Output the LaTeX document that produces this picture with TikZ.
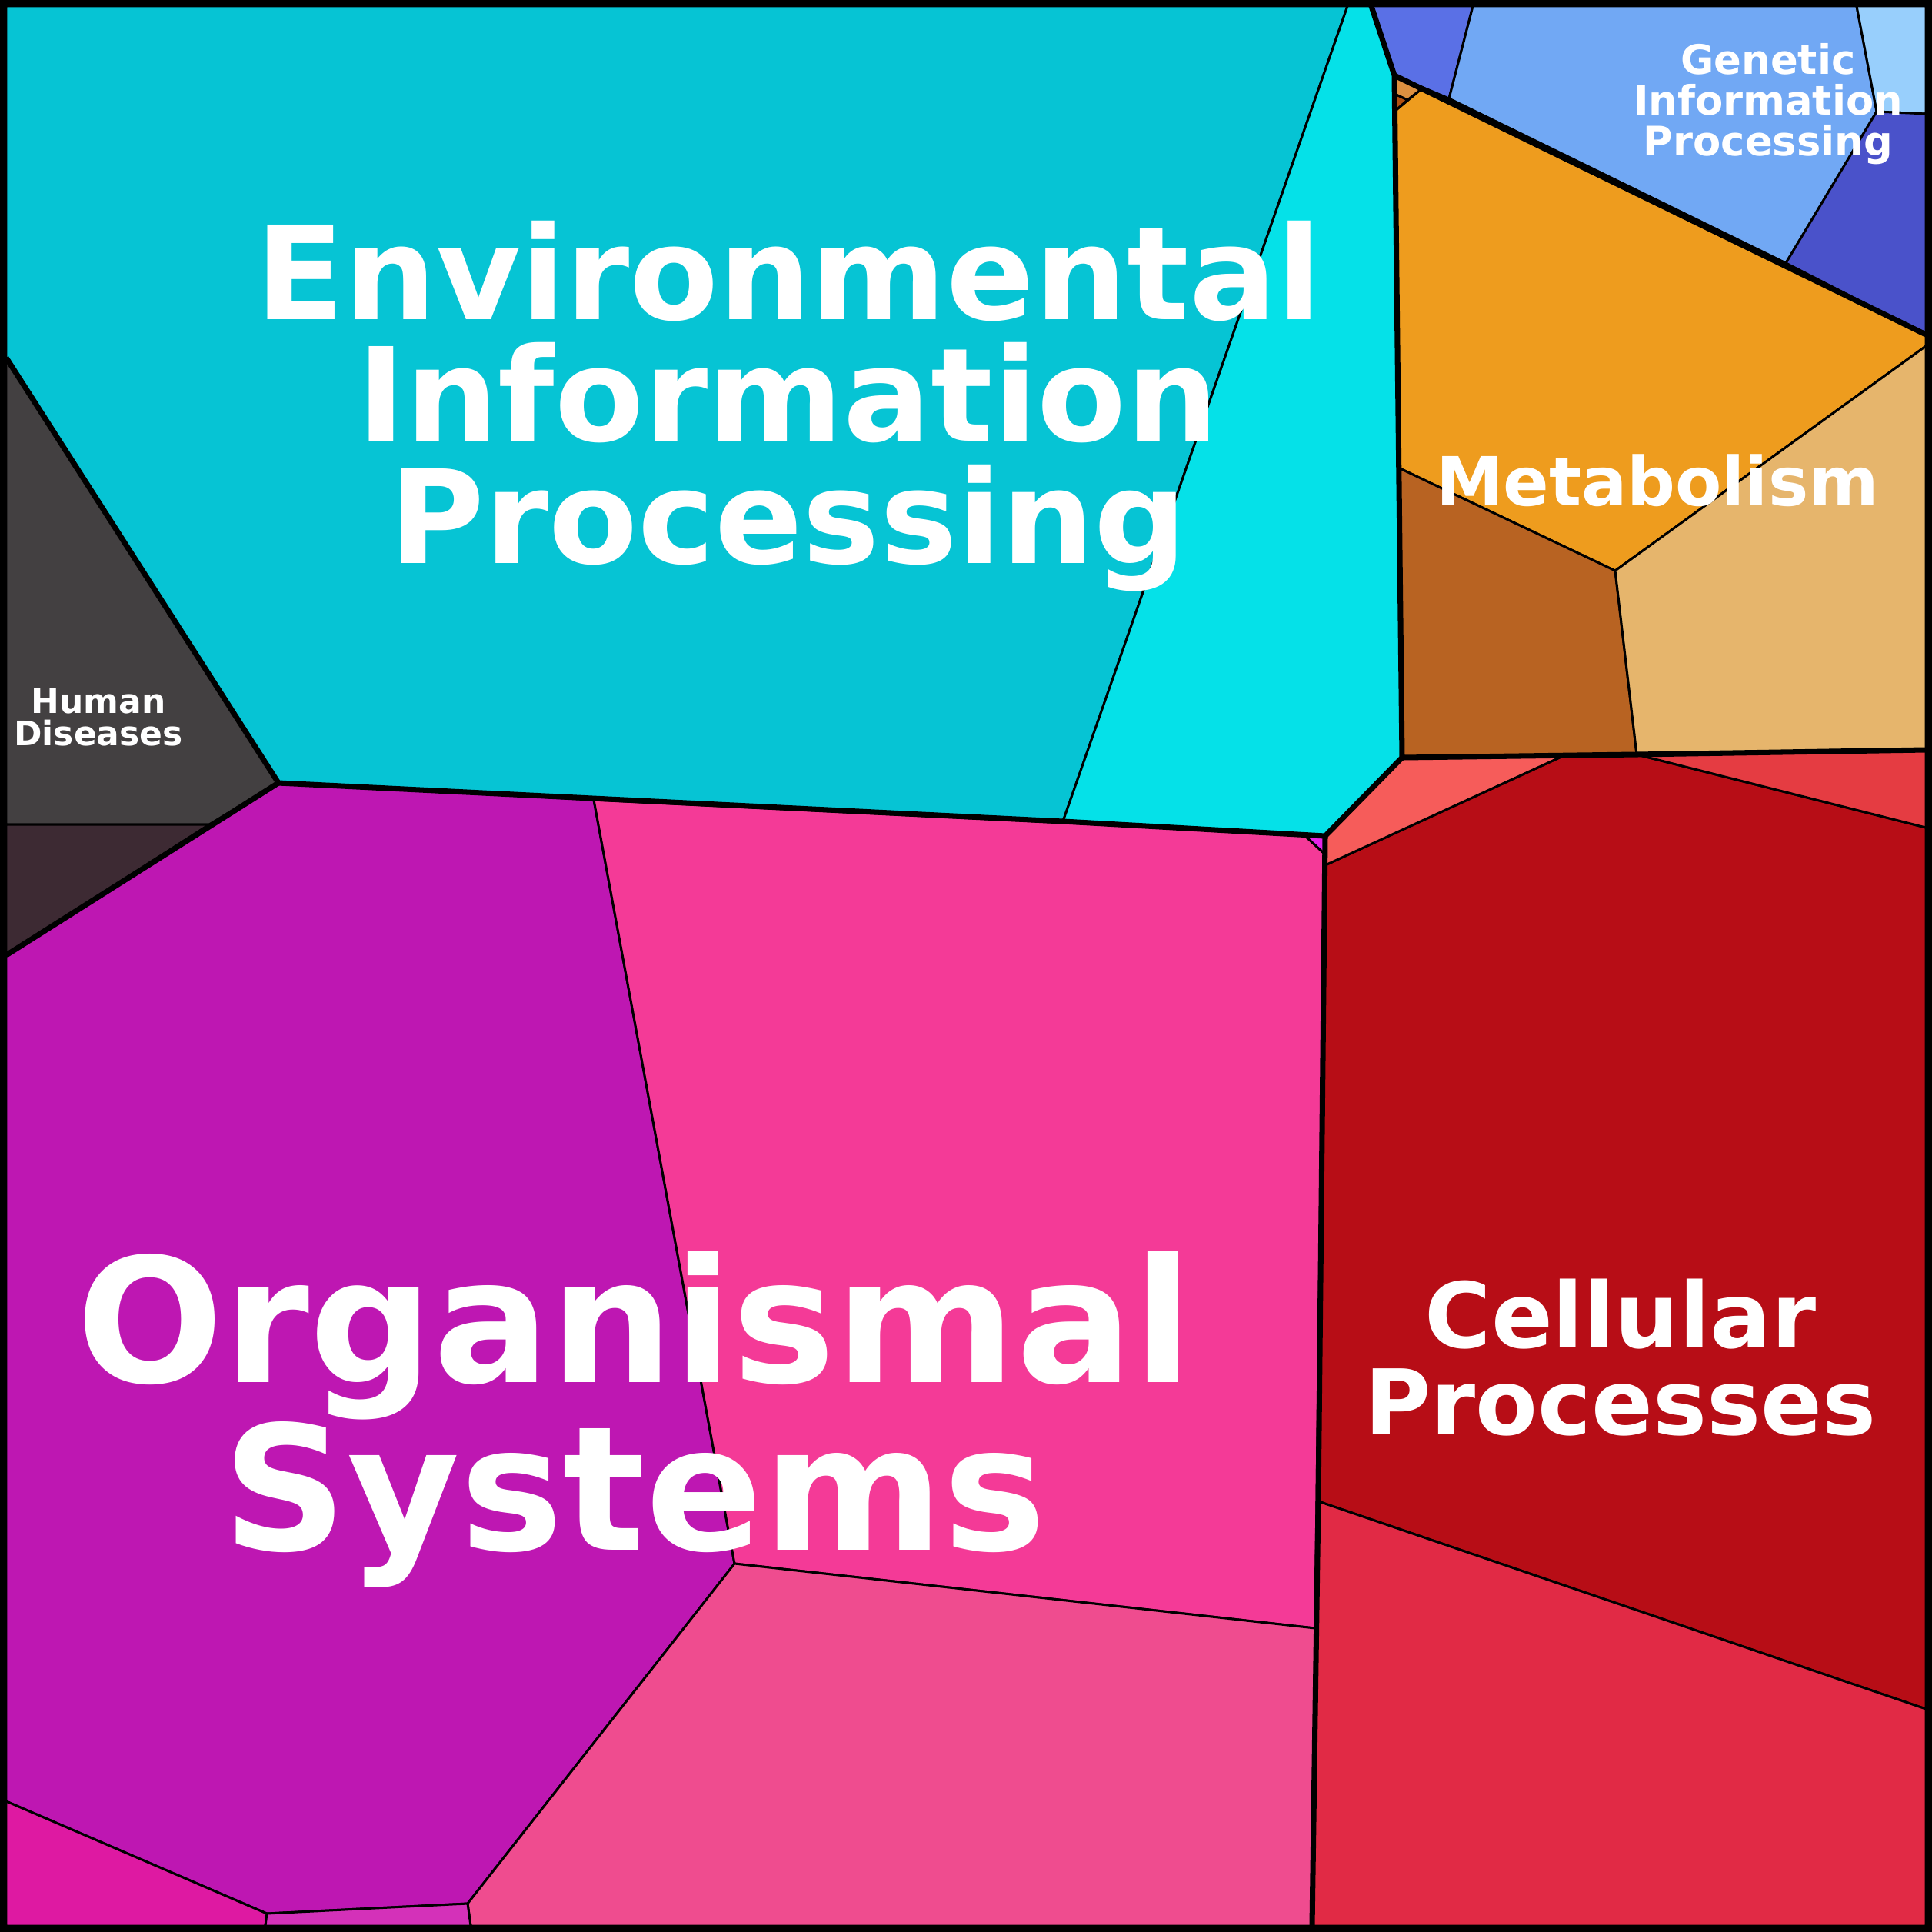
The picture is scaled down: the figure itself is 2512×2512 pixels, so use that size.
\documentclass[tikz,border=0pt]{standalone}
\usepackage{fontspec}
\setmainfont{DejaVu Sans}
\begin{document}
\begin{tikzpicture}[x=0.01cm,y=-0.01cm,
 cell/.style={draw=black,line width=0.85pt,line join=round},
 thick/.style={draw=black,line width=2pt,line join=round},
 lab/.style={text=white,font=\bfseries,align=center,inner sep=0pt}]
\useasboundingbox (0,0) rectangle (2512,2512);
\fill[black] (0,0) rectangle (2512,2512);
% cells
\filldraw[cell,fill={rgb,255:red,6;green,196;blue,212}] (8,8)--(1752,8)--(1382,1068)--(362,1018)--(8,465)--cycle;
\filldraw[cell,fill={rgb,255:red,5;green,225;blue,232}] (1752,8)--(1783,8)--(1813,98)--(1823,985)--(1723,1087)--(1382,1068)--cycle;
\filldraw[cell,fill={rgb,255:red,67;green,64;blue,65}] (8,465)--(362,1018)--(272,1072)--(8,1072)--cycle;
\filldraw[cell,fill={rgb,255:red,61;green,42;blue,51}] (8,1072)--(272,1072)--(8,1242)--cycle;
\filldraw[cell,fill={rgb,255:red,190;green,23;blue,178}] (8,1242)--(362,1018)--(772,1040)--(955,2033)--(608,2475)--(347,2488)--(8,2342)--cycle;
\filldraw[cell,fill={rgb,255:red,244;green,58;blue,151}] (772,1040)--(1695,1085)--(1722,1110)--(1710,2117)--(955,2033)--cycle;
\filldraw[cell,fill={rgb,255:red,230;green,36;blue,230}] (1695,1085)--(1723,1087)--(1722,1110)--cycle;
\filldraw[cell,fill={rgb,255:red,239;green,76;blue,143}] (955,2033)--(1710,2117)--(1706,2504)--(612,2504)--(608,2475)--cycle;
\filldraw[cell,fill={rgb,255:red,222;green,25;blue,162}] (8,2342)--(347,2488)--(345,2504)--(8,2504)--cycle;
\filldraw[cell,fill={rgb,255:red,212;green,49;blue,185}] (347,2488)--(608,2475)--(612,2504)--(345,2504)--cycle;
\filldraw[cell,fill={rgb,255:red,183;green,13;blue,22}] (1723,1125)--(2032,983)--(2128,981)--(2504,1076)--(2504,2222)--(1714,1952)--cycle;
\filldraw[cell,fill={rgb,255:red,246;green,92;blue,90}] (1823,985)--(2032,983)--(1723,1125)--(1723,1087)--cycle;
\filldraw[cell,fill={rgb,255:red,229;green,60;blue,66}] (2128,981)--(2504,975)--(2504,1076)--cycle;
\filldraw[cell,fill={rgb,255:red,225;green,42;blue,69}] (1714,1952)--(2504,2222)--(2504,2504)--(1706,2504)--cycle;
\filldraw[cell,fill={rgb,255:red,238;green,156;blue,30}] (1813,145)--(1849,115)--(2504,435)--(2504,450)--(2100,742)--(1818,608)--cycle;
\filldraw[cell,fill={rgb,255:red,184;green,99;blue,34}] (1818,608)--(2100,742)--(2128,981)--(1823,985)--cycle;
\filldraw[cell,fill={rgb,255:red,230;green,181;blue,108}] (2100,742)--(2504,450)--(2504,975)--(2128,981)--cycle;
\filldraw[cell,fill={rgb,255:red,220;green,144;blue,64}] (1813,98)--(1849,115)--(1830,130)--(1813,122)--cycle;
\filldraw[cell,fill={rgb,255:red,176;green,80;blue,16}] (1813,122)--(1830,130)--(1813,145)--cycle;
\filldraw[cell,fill={rgb,255:red,90;green,112;blue,230}] (1783,8)--(1915,8)--(1884,128)--(1813,98)--cycle;
\filldraw[cell,fill={rgb,255:red,113;green,168;blue,244}] (1884,128)--(1915,8)--(2414,8)--(2440,145)--(2322,342)--cycle;
\filldraw[cell,fill={rgb,255:red,152;green,207;blue,252}] (2414,8)--(2504,8)--(2504,148)--(2440,145)--cycle;
\filldraw[cell,fill={rgb,255:red,74;green,82;blue,202}] (2440,145)--(2504,148)--(2504,435)--(2322,342)--cycle;
% category boundaries
\draw[thick] (8,465)--(362,1018)--(1382,1068)--(1723,1087)--(1823,985)--(1813,98)--(1783,8);
\draw[thick] (362,1018)--(8,1242);
\draw[thick] (1723,1087)--(1714,1952)--(1706,2504);
\draw[thick] (1823,985)--(2128,981)--(2504,975);
\draw[thick] (1813,98)--(2504,435);
\draw[black,line width=2.8pt] (4,4) rectangle (2508,2508);
% labels
\node[lab,font=\bfseries\fontsize{48}{45}\selectfont] (env) at (1025,528) {Environmental\\Information\\Processing};
\node[lab,font=\bfseries\fontsize{64}{62}\selectfont] (org) at (825,1845) {Organismal\\Systems};
\node[lab,font=\bfseries\fontsize{33.5}{32}\selectfont] (cel) at (2107,1765) {Cellular\\Processes};
\node[lab,font=\bfseries\fontsize{25}{25}\selectfont] (met) at (2155,625) {Metabolism};
\node[lab,font=\bfseries\fontsize{15}{15}\selectfont] (gen) at (2299,135) {Genetic\\Information\\Processing};
\node[lab,font=\bfseries\fontsize{12.5}{11.8}\selectfont] (hum) at (128,933) {Human\\Diseases};
\end{tikzpicture}
\end{document}
